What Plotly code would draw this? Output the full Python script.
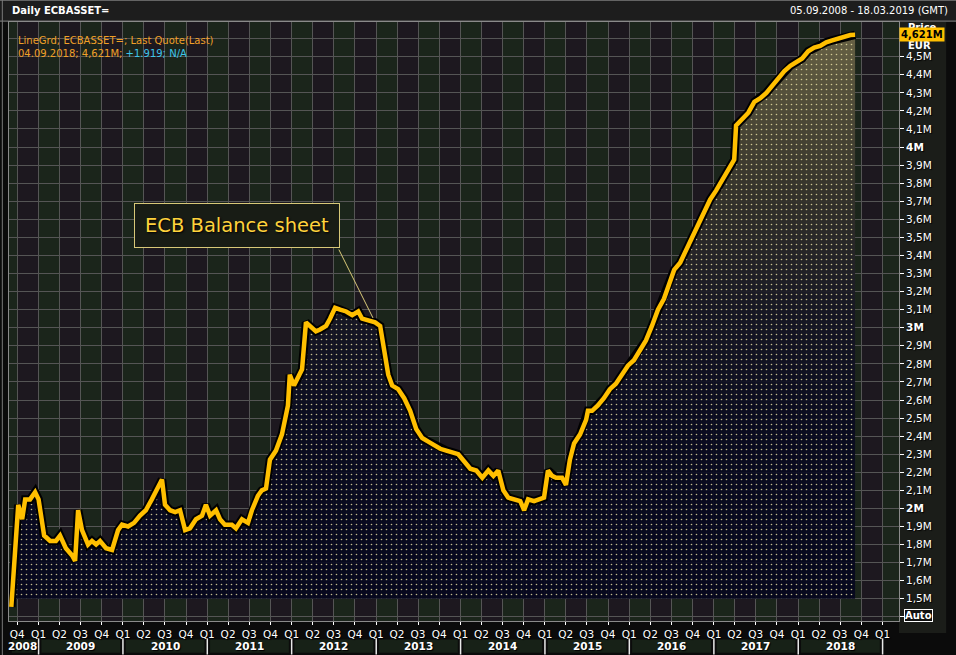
import plotly.graph_objects as go
import pandas as pd

# ---------------- data ----------------
dates = [
    "2008-09-05", "2008-09-18", "2008-10-05", "2008-10-22", "2008-11-04", "2008-11-25", "2008-12-17",
    "2009-01-01", "2009-01-25", "2009-02-20", "2009-03-17", "2009-04-04", "2009-04-29", "2009-05-26",
    "2009-06-08", "2009-06-21", "2009-07-08", "2009-08-03", "2009-08-20", "2009-09-07", "2009-09-24",
    "2009-10-20", "2009-11-15", "2009-12-11", "2009-12-28",
    "2010-01-23", "2010-02-18", "2010-03-16", "2010-04-10", "2010-05-06", "2010-05-28", "2010-06-19",
    "2010-07-02", "2010-07-24", "2010-08-15", "2010-09-05", "2010-09-27", "2010-10-18", "2010-11-13",
    "2010-12-09", "2010-12-26",
    "2011-01-13", "2011-02-08", "2011-02-25", "2011-03-18", "2011-04-17", "2011-05-05", "2011-05-31",
    "2011-06-26", "2011-07-13", "2011-08-08", "2011-08-25", "2011-09-12", "2011-09-29", "2011-10-25",
    "2011-11-20", "2011-12-16", "2011-12-24",
    "2012-01-11", "2012-01-28", "2012-02-15", "2012-03-03", "2012-03-20", "2012-04-15", "2012-05-03",
    "2012-05-29", "2012-06-15", "2012-07-07", "2012-07-29", "2012-08-24", "2012-09-19", "2012-10-15",
    "2012-11-01", "2012-11-27", "2012-12-27",
    "2013-01-18", "2013-01-31", "2013-02-22", "2013-03-11", "2013-04-06", "2013-05-02", "2013-05-28",
    "2013-06-23", "2013-07-19", "2013-08-14", "2013-09-09", "2013-10-05", "2013-10-31", "2013-11-26",
    "2013-12-22",
    "2014-01-17", "2014-02-12", "2014-03-10", "2014-04-05", "2014-05-01", "2014-05-23", "2014-06-13",
    "2014-07-05", "2014-07-26", "2014-08-21", "2014-09-16", "2014-10-03", "2014-10-20", "2014-11-15",
    "2014-12-11", "2014-12-28",
    "2015-01-14", "2015-02-01", "2015-02-18", "2015-03-16", "2015-04-02", "2015-04-19", "2015-05-07",
    "2015-06-02", "2015-06-28", "2015-07-06", "2015-07-24", "2015-08-18", "2015-09-13", "2015-10-09",
    "2015-11-04", "2015-11-30", "2015-12-26",
    "2016-01-21", "2016-02-16", "2016-03-13", "2016-04-08", "2016-05-04", "2016-05-30", "2016-06-25",
    "2016-07-13", "2016-08-08", "2016-09-03", "2016-09-29", "2016-10-25", "2016-11-20", "2016-12-16",
    "2017-01-11", "2017-02-06", "2017-03-03", "2017-03-30", "2017-04-07", "2017-05-04", "2017-05-30",
    "2017-06-25", "2017-07-21", "2017-08-16", "2017-09-11", "2017-10-07", "2017-11-02", "2017-11-28",
    "2017-12-24",
    "2018-01-18", "2018-02-13", "2018-03-11", "2018-04-06", "2018-05-02", "2018-05-28", "2018-06-23",
    "2018-07-19", "2018-08-14", "2018-09-04",
]
assets_m = [
    1.455, 1.71, 2.02, 1.94, 2.05, 2.05, 2.09,
    2.05, 1.85, 1.82, 1.82, 1.85, 1.78, 1.74,
    1.71, 1.99, 1.88, 1.80, 1.82, 1.80, 1.82,
    1.78, 1.77, 1.88, 1.91,
    1.90, 1.92, 1.96, 1.99, 2.05, 2.10, 2.16,
    2.02, 1.99, 1.98, 1.99, 1.88, 1.89, 1.94,
    1.96, 2.02,
    1.96, 1.99, 1.94, 1.91, 1.91, 1.89, 1.94,
    1.92, 1.99, 2.07, 2.10, 2.11, 2.27, 2.32,
    2.41, 2.57, 2.74,
    2.68, 2.72, 2.77, 3.03, 3.01, 2.98, 2.99,
    3.01, 3.05, 3.11, 3.10, 3.09, 3.07, 3.09,
    3.05, 3.04, 3.03,
    3.01, 2.90, 2.74, 2.68, 2.66, 2.61, 2.54,
    2.44, 2.39, 2.37, 2.35, 2.33, 2.32, 2.31,
    2.30,
    2.26, 2.22, 2.21, 2.17, 2.21, 2.18, 2.21,
    2.10, 2.06, 2.05, 2.04, 1.99, 2.05, 2.04,
    2.05, 2.06,
    2.21, 2.18, 2.17, 2.17, 2.13, 2.27, 2.36,
    2.41, 2.49, 2.54, 2.54, 2.57, 2.61, 2.66,
    2.69, 2.74, 2.79,
    2.82, 2.88, 2.93, 3.01, 3.10, 3.16, 3.25,
    3.32, 3.36, 3.43, 3.51, 3.57, 3.65, 3.71,
    3.76, 3.82, 3.87, 3.93, 4.12, 4.16, 4.19,
    4.25, 4.27, 4.30, 4.34, 4.38, 4.42, 4.45,
    4.47,
    4.49, 4.53, 4.55, 4.56, 4.58, 4.59, 4.60,
    4.61, 4.62, 4.621,
]
fill_floor = 1.5

y_ticks = [1.4, 1.5, 1.6, 1.7, 1.8, 1.9, 2.0, 2.1, 2.2, 2.3, 2.4, 2.5, 2.6, 2.7, 2.8, 2.9,
           3.0, 3.1, 3.2, 3.3, 3.4, 3.5, 3.6, 3.7, 3.8, 3.9, 4.0, 4.1, 4.2, 4.3, 4.4, 4.5, 4.6]
y_labels = ["", "1,5M", "1,6M", "1,7M", "1,8M", "1,9M", "<b>2M</b>", "2,1M", "2,2M", "2,3M", "2,4M",
            "2,5M", "2,6M", "2,7M", "2,8M", "2,9M", "<b>3M</b>", "3,1M", "3,2M", "3,3M", "3,4M",
            "3,5M", "3,6M", "3,7M", "3,8M", "3,9M", "<b>4M</b>", "4,1M", "4,2M", "4,3M", "4,4M",
            "4,5M", ""]
years = [2008, 2009, 2010, 2011, 2012, 2013, 2014, 2015, 2016, 2017, 2018]
year_label_pos = ["2008-10-25", "2009-07-02", "2010-07-02", "2011-07-02", "2012-07-02", "2013-07-02",
                  "2014-07-02", "2015-07-02", "2016-07-02", "2017-07-02", "2018-07-02"]
x_range = ["2008-08-26", "2019-03-13"]
last_date, last_value, last_label = "2018-09-04", 4.621, "4,621M"

quarter_ticks = pd.date_range("2008-10-01", "2019-01-01", freq="QS")
quarter_labels = [f"Q{d.quarter}" for d in quarter_ticks]

# ---------------- styles ----------------
FONT = "DejaVu Sans"
SHADOW = "1px 1px 1px #000000"
AMBER = "#ffbf00"

fig = go.Figure()

# filled area: gradient layer
fig.add_trace(go.Scatter(x=dates, y=[fill_floor] * len(dates), mode="lines",
                         line=dict(width=0, color="rgba(0,0,0,0)"), hoverinfo="skip", showlegend=False))
fig.add_trace(go.Scatter(x=dates, y=assets_m, mode="lines", fill="tonexty",
                         line=dict(width=0, color="rgba(0,0,0,0)"),
                         fillgradient=dict(type="vertical", start=1.5, stop=4.65,
                                           colorscale=[[0, "rgba(5,6,30,0.92)"], [0.3, "rgba(9,10,32,0.92)"],
                                                       [0.5, "rgba(22,22,36,0.94)"], [0.72, "rgba(54,52,44,0.96)"],
                                                       [1, "rgba(106,100,70,0.98)"]]),
                         hoverinfo="skip", showlegend=False))
# dotted pattern layer
fig.add_trace(go.Scatter(x=dates, y=[fill_floor] * len(dates), mode="lines",
                         line=dict(width=0, color="rgba(0,0,0,0)"), hoverinfo="skip", showlegend=False))
fig.add_trace(go.Scatter(x=dates, y=assets_m, mode="lines", fill="tonexty",
                         line=dict(width=0, color="rgba(0,0,0,0)"),
                         fillpattern=dict(shape=".", fgcolor="#efe6a8", bgcolor="rgba(0,0,0,0)",
                                          size=5, solidity=0.08, fgopacity=0.8),
                         hoverinfo="skip", showlegend=False))
# line shadow + line
fig.add_trace(go.Scatter(x=dates, y=assets_m, mode="lines",
                         line=dict(width=8.5, color="#000000", shape="linear"),
                         hoverinfo="skip", showlegend=False))
fig.add_trace(go.Scatter(x=dates, y=assets_m, mode="lines",
                         line=dict(width=4.5, color=AMBER, shape="linear"),
                         hoverinfo="skip", showlegend=False))

shapes = []
# alternating quarter columns
for q in pd.date_range("2008-07-01", "2019-04-01", freq="QS"):
    col = "#1b251b" if q.quarter in (1, 3) else "#1d181f"
    shapes.append(dict(type="rect", xref="x", yref="paper", x0=q, x1=q + pd.offsets.QuarterBegin(startingMonth=1),
                       y0=0, y1=1, fillcolor=col, line=dict(width=0), layer="below"))
# right axis panel
shapes.append(dict(type="rect", xref="paper", yref="paper", x0=1.0, x1=1.053, y0=-0.02, y1=1.0,
                   fillcolor="#1b1d19", line=dict(width=0), layer="below"))
# header bar
shapes.append(dict(type="rect", xref="paper", yref="paper", x0=-0.02, x1=1.08, y0=1.002, y1=1.05,
                   fillcolor="#1d1d1d", line=dict(width=0), layer="below"))
shapes.append(dict(type="line", xref="paper", yref="paper", x0=-0.02, x1=1.08, y0=1.0015, y1=1.0015,
                   line=dict(width=1, color="#8a8a8a")))
shapes.append(dict(type="line", xref="paper", yref="paper", x0=-0.02, x1=1.08, y0=1.036, y1=1.036,
                   line=dict(width=1, color="#6a6a6a")))
# outer frame line at the left
shapes.append(dict(type="line", xref="paper", yref="paper", x0=-0.0075, x1=-0.0075, y0=-0.06, y1=1.04,
                   line=dict(width=1, color="#7a7a7a")))
# year row boxes and separators
for yr in years:
    x0 = max(pd.Timestamp(f"{yr}-01-01"), pd.Timestamp(x_range[0])) + pd.Timedelta(days=12)
    x1 = pd.Timestamp(f"{yr + 1}-01-01") - pd.Timedelta(days=12)
    shapes.append(dict(type="rect", xref="x", yref="paper", x0=x0, x1=x1, y0=-0.053, y1=-0.031,
                       fillcolor="#172117", line=dict(width=0), layer="below"))
    shapes.append(dict(type="line", xref="x", yref="paper", x0=f"{yr + 1}-01-01", x1=f"{yr + 1}-01-01",
                       y0=-0.029, y1=-0.056, line=dict(width=1.5, color="#e8e8e8")))

annotations = []
for yr, pos in zip(years, year_label_pos):
    annotations.append(dict(x=pos, y=-0.042, xref="x", yref="paper", text=f"<b>{yr}</b>", showarrow=False,
                            font=dict(family=FONT, size=10.5, color="#ffffff", shadow=SHADOW),
                            xanchor="center", yanchor="middle"))
# header texts
annotations.append(dict(x=0.001, y=1.019, xref="paper", yref="paper", text="<b>Daily ECBASSET=</b>",
                        showarrow=False, xanchor="left", yanchor="middle",
                        font=dict(family=FONT, size=10, color="#ffffff")))
annotations.append(dict(x=1.057, y=1.019, xref="paper", yref="paper", text="05.09.2008 - 18.03.2019 (GMT)",
                        showarrow=False, xanchor="right", yanchor="middle",
                        font=dict(family=FONT, size=10, color="#ffffff")))
# legend lines
annotations.append(dict(x=0.008, y=0.982, xref="paper", yref="paper", align="left",
                        text="LineGrd; ECBASSET=; Last Quote(Last)<br>04.09.2018; 4,621M; "
                             "<span style='color:#3ec6ea'>+1.919; N/A</span>",
                        showarrow=False, xanchor="left", yanchor="top",
                        font=dict(family=FONT, size=10, color="#f0a028")))
# price header and last value box
annotations.append(dict(x=1.008, y=0.99, xref="paper", yref="paper", text="<b>Price</b>", showarrow=False,
                        xanchor="left", yanchor="middle", font=dict(family=FONT, size=10, color="#ffffff")))
annotations.append(dict(x=1.008, y=4.56, xref="paper", yref="y", text="<b>EUR</b>", showarrow=False,
                        xanchor="left", yanchor="middle", font=dict(family=FONT, size=10, color="#ffffff")))
annotations.append(dict(x=1.0, y=last_value, xref="paper", yref="y", text=f"<b>{last_label}</b>",
                        showarrow=False, xanchor="left", yanchor="middle", bgcolor=AMBER, borderpad=1,
                        font=dict(family=FONT, size=10, color="#000000")))
annotations.append(dict(x=1.022, y=0.01, xref="paper", yref="paper", text="<b>Auto</b>", showarrow=False,
                        xanchor="center", yanchor="middle", bgcolor="#101010", bordercolor="#ffffff",
                        borderwidth=1, borderpad=0, font=dict(family=FONT, size=10, color="#ffffff")))
# callout
annotations.append(dict(x="2011-05-10", y=3.568, xref="x", yref="y", text="ECB Balance sheet",
                        showarrow=False, xanchor="center", yanchor="middle", bgcolor="#181c15",
                        bordercolor="#d8c878", borderwidth=1, borderpad=10,
                        font=dict(family=FONT, size=19.5, color="#ffd23c", shadow="1px 1px 2px #000000")))
annotations.append(dict(x="2012-12-18", y=3.054, xref="x", yref="y", ax="2012-07-20", ay=3.441,
                        axref="x", ayref="y", text="", showarrow=True, arrowhead=0, arrowwidth=1,
                        arrowcolor="#d8c878", standoff=0, startstandoff=0))

fig.update_layout(
    width=956, height=655,
    margin=dict(l=9, r=57, t=22, b=34, autoexpand=False),
    paper_bgcolor="#0b0b0b",
    plot_bgcolor="#1b1d1b",
    showlegend=False,
    shapes=shapes,
    annotations=annotations,
    xaxis=dict(type="date", range=x_range, tickmode="array", tickvals=list(quarter_ticks),
               ticktext=quarter_labels, showgrid=True, gridcolor="#555555", gridwidth=1,
               ticks="outside", ticklen=3, tickcolor="#ffffff", tickwidth=1,
               tickfont=dict(family=FONT, size=10.5, color="#ffffff", shadow=SHADOW),
               showline=True, linecolor="#8a8a8a", linewidth=1, mirror=True, zeroline=False,
               fixedrange=True),
    yaxis=dict(side="right", range=[1.377, 4.692], tickmode="array", tickvals=y_ticks, ticktext=y_labels,
               showgrid=True, gridcolor="#555555", gridwidth=1,
               ticks="outside", ticklen=4, tickcolor="#ffffff", tickwidth=1,
               tickfont=dict(family=FONT, size=10.5, color="#ffffff", shadow=SHADOW),
               showline=True, linecolor="#8a8a8a", linewidth=1, mirror=True, zeroline=False,
               fixedrange=True),
)

fig.write_html("out.html", config={"displayModeBar": False},
               post_script="document.body.style.margin='0';document.body.style.background='#0b0b0b';"
                           "document.documentElement.style.overflow='hidden';")
